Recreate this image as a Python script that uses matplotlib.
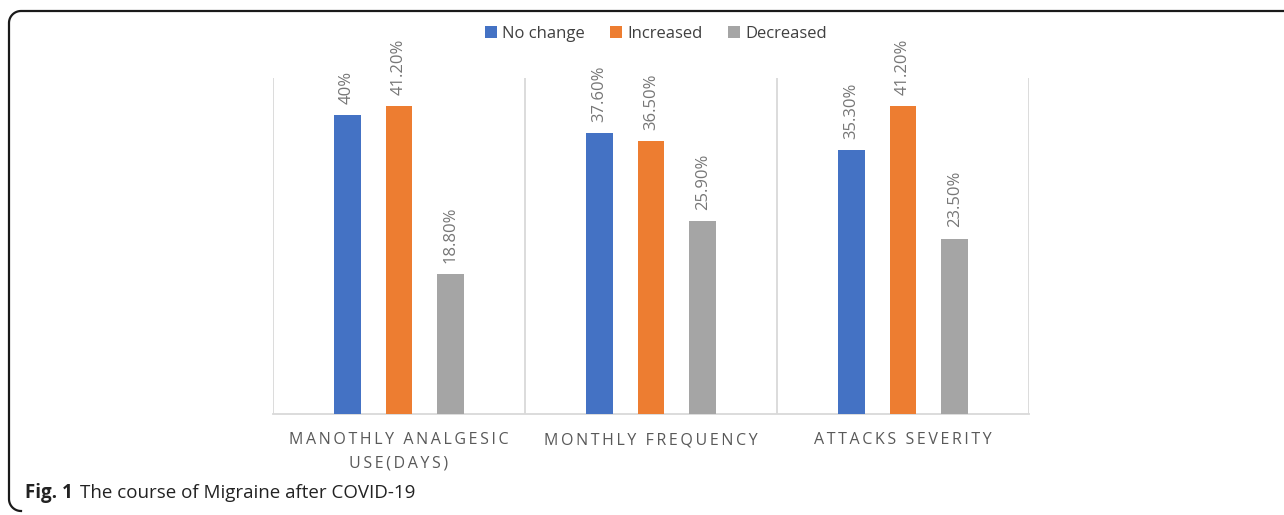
import numpy as np
import matplotlib.pyplot as plt
from matplotlib.patches import Patch
from matplotlib.lines import Line2D

categories = ["MANOTHLY ANALGESIC\nUSE(DAYS)", "MONTHLY FREQUENCY", "ATTACKS SEVERITY"]
series_names = ["No change", "Increased", "Decreased"]
no_change = [40.0, 37.6, 35.3]
increased = [41.2, 36.5, 41.2]
decreased = [18.8, 25.9, 23.5]
value_labels = [["40%", "37.60%", "35.30%"],
                 ["41.20%", "36.50%", "41.20%"],
                 ["18.80%", "25.90%", "23.50%"]]

colors = ["#4472C4", "#ED7D31", "#A5A5A5"]
label_gray = "#767676"
grid_gray = "#D9D9D9"

plt.rcParams['font.family'] = ['Open Sans', 'DejaVu Sans']


def spaced(text):
    # wide tracking for the category captions
    return "\n".join("\u2009".join(line) for line in text.split("\n"))


W, H = 1284, 515
fig = plt.figure(figsize=(W / 100, H / 100), dpi=100)
ax = fig.add_axes([273 / W, 1 - 414 / H, 756 / W, 336 / H])

x = np.arange(len(categories))
offsets = [-0.206, 0.0, 0.206]
width = 0.107
for vals, labels, off, col in zip([no_change, increased, decreased], value_labels, offsets, colors):
    ax.bar(x + off, vals, width, color=col, zorder=3)
    for xi, v, lab in zip(x, vals, labels):
        ax.annotate(lab, (xi + off, v), xytext=(0, 8), textcoords="offset points",
                    rotation=90, ha="center", va="bottom", fontsize=12, color=label_gray)

ax.set_xlim(-0.5, 2.5)
ax.set_ylim(0, 45)
ax.set_yticks([])
ax.set_xticks(x, [spaced(c) for c in categories])
ax.set_xticks([-0.5, 0.5, 1.5, 2.5], minor=True)
ax.tick_params(axis="x", which="both", length=0, pad=13, labelsize=11.5,
               labelcolor="#595959")
for t in ax.get_xticklabels():
    t.set_linespacing(1.6)
ax.grid(axis="x", which="minor", color=grid_gray, linewidth=1.3, zorder=0)
for side in ["left", "right", "top"]:
    ax.spines[side].set_visible(False)
ax.spines["bottom"].set_color(grid_gray)
ax.spines["bottom"].set_linewidth(1.3)

handles = [Patch(facecolor=c, edgecolor="none") for c in colors]
fig.legend(handles, series_names, loc="center", bbox_to_anchor=(656 / W, 1 - 34 / H),
           ncol=3, frameon=False, fontsize=12, handlelength=0.7, handleheight=0.7,
           handletextpad=0.35, columnspacing=1.5, labelcolor="#404040")

# caption below the chart
fig.text(25 / W, 1 - 493 / H, "Fig. 1", fontsize=13.5, fontweight="bold",
         va="center", ha="left", color="#222222")
fig.text(80 / W, 1 - 493 / H, "The course of Migraine after COVID-19", fontsize=13.5,
         va="center", ha="left", color="#222222")

# outer frame: top rule and left rule with rounded corners
r = 12
theta = np.linspace(np.pi, np.pi / 2, 20)
top_x = np.concatenate([9 + r + r * np.cos(theta), [W]])
top_y = np.concatenate([11 + r - r * np.sin(theta), [11]])
theta2 = np.linspace(np.pi, 3 * np.pi / 2, 20)
bot_x = 9 + r + r * np.cos(theta2)
bot_y = 511 - r - r * np.sin(theta2)
frame_x = np.concatenate([bot_x[::-1], top_x])
frame_y = np.concatenate([bot_y[::-1], top_y])
fig.add_artist(Line2D(frame_x / W, 1 - frame_y / H, transform=fig.transFigure,
                      color="#1a1a1a", linewidth=1.6))

fig.savefig("out.png", dpi=100)
